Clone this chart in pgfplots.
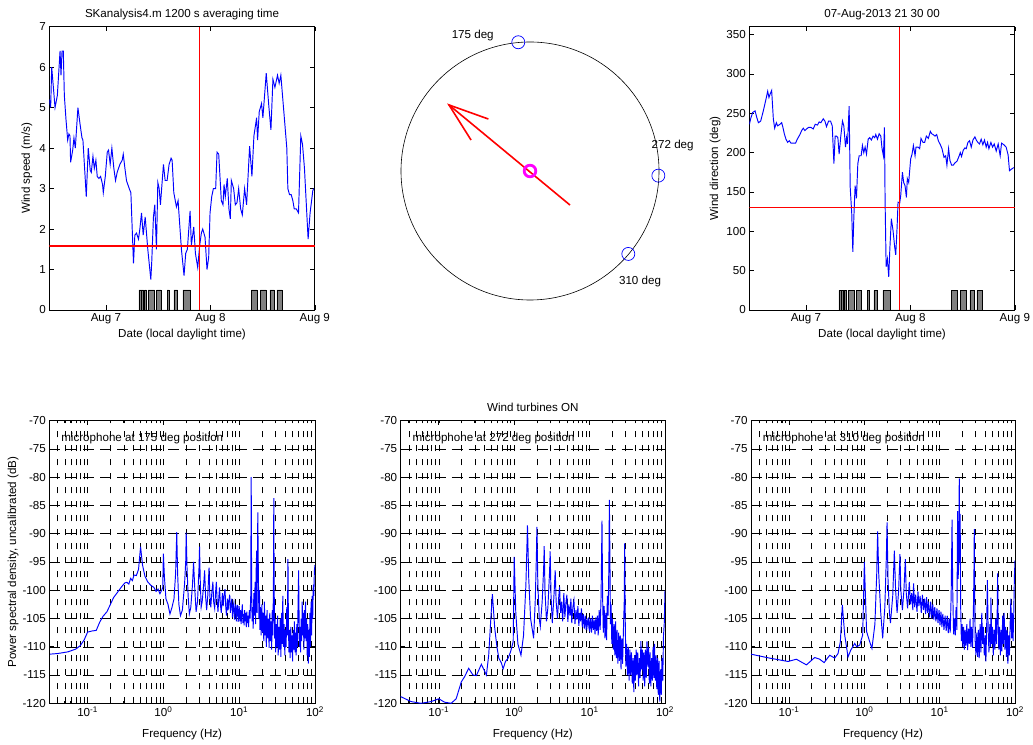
\documentclass[border=0pt]{standalone}
\usepackage{fontspec}
\setmainfont{Liberation Sans}
\usepackage{pgfplots}
\pgfplotsset{compat=1.18}
\newcommand\mf{\fontsize{11.6bp}{13bp}\selectfont}
\definecolor{mred}{RGB}{255,0,0}
\definecolor{mmag}{RGB}{255,0,255}
\pgfplotsset{
 myax/.style={scale only axis, anchor=south west, font=\mf, tick align=inside,
   major tick length=4.5bp, minor tick length=2.5bp,
   axis line style={line width=0.7bp, black},
   every tick/.append style={black, line width=0.6bp},
   /pgf/number format/assume math mode=true,
   title style={anchor=base, at={(0.5,1)}, yshift=3.5bp}},
 timeax/.style={myax, width=265.5bp, height=283.3bp, xmin=6.458, xmax=9,
   xtick={7,8,9}, xticklabels={Aug 7,Aug 8,Aug 9},
   xlabel={Date (local daylight time)}, xlabel style={at={(0.5,-0.085)}, anchor=center}},
 psdax/.style={myax, width=264.5bp, height=282.6bp, xmin=0.03125, xmax=100,
   ymin=-120, ymax=-70, ytick={-120,-115,...,-70},
   xtick={0.1,1,10,100},
   xticklabels={10\textsuperscript{-1},10\textsuperscript{0},10\textsuperscript{1},10\textsuperscript{2}},
   minor xtick={0.04,0.05,0.06,0.07,0.08,0.09,0.2,0.3,0.4,0.5,0.6,0.7,0.8,0.9,2,3,4,5,6,7,8,9,20,30,40,50,60,70,80,90},
   xmajorgrids, xminorgrids, ymajorgrids,
   major x grid style={black, line width=0.5bp, dash pattern=on 6bp off 8bp},
   minor x grid style={black, line width=0.5bp, dash pattern=on 6bp off 8bp},
   major y grid style={black, line width=0.5bp, dash pattern=on 11bp off 6bp},
   xlabel={Frequency (Hz)}, xlabel style={at={(0.5,-0.109)}, anchor=center}},
 dat/.style={draw=blue, color=blue, line width=0.95bp},
 tbar/.style={fill=gray, draw=black, line width=0.5bp},
 redl/.style={draw=mred, color=mred, line width=1.6bp},
}
\begin{document}
\begin{tikzpicture}
\useasboundingbox (0,0) rectangle (1033bp,745bp);
% ---------------- wind speed
\begin{axis}[timeax, at={(49.3bp,435bp)}, ymin=0, ymax=7, ytick={0,1,...,7},
  ylabel={Wind speed (m/s)}, ylabel style={at={(-0.084,0.5)}, anchor=center},
  title={SKanalysis4.m 1200 s averaging time}]
\addplot[tbar] coordinates {(7.316,0)(7.316,0.5)(7.336,0.5)(7.336,0)(7.340,0)(7.340,0.5)(7.360,0.5)(7.360,0)(7.370,0)(7.370,0.5)(7.388,0.5)(7.388,0)(7.404,0)(7.404,0.5)(7.466,0.5)(7.466,0)(7.486,0)(7.486,0.5)(7.526,0.5)(7.526,0)(7.585,0)(7.585,0.5)(7.605,0.5)(7.605,0)(7.650,0)(7.650,0.5)(7.687,0.5)(7.687,0)(7.737,0)(7.737,0.5)(7.809,0.5)(7.809,0)(8.393,0)(8.393,0.5)(8.447,0.5)(8.447,0)(8.479,0)(8.479,0.5)(8.533,0.5)(8.533,0)(8.569,0)(8.569,0.5)(8.613,0.5)(8.613,0)(8.637,0)(8.637,0.5)(8.688,0.5)(8.688,0)};
\addplot[dat] coordinates {(6.459,5.2)(6.471,5.0)(6.481,6.0)(6.513,5.0)(6.535,5.3)(6.561,6.4)(6.570,5.8)(6.580,6.4)(6.592,6.4)(6.602,5.3)(6.618,4.7)(6.634,4.2)(6.646,4.35)(6.656,4.3)(6.662,3.65)(6.682,3.95)(6.694,4.25)(6.707,4.0)(6.732,5.0)(6.752,4.6)(6.771,4.25)(6.780,4.2)(6.796,3.5)(6.812,2.8)(6.831,4.0)(6.850,3.45)(6.860,3.4)(6.876,3.8)(6.889,3.5)(6.904,3.7)(6.917,3.3)(6.933,3.25)(6.949,3.3)(6.968,3.1)(6.975,2.9)(6.994,3.3)(7.013,3.9)(7.025,3.95)(7.041,3.6)(7.057,4.0)(7.076,3.5)(7.092,3.2)(7.108,3.4)(7.134,3.6)(7.156,3.7)(7.166,3.85)(7.182,3.5)(7.197,3.2)(7.223,3.0)(7.239,2.9)(7.264,1.15)(7.277,1.85)(7.293,1.9)(7.312,1.75)(7.325,2.0)(7.341,2.4)(7.357,1.85)(7.376,2.3)(7.401,1.5)(7.430,0.75)(7.439,1.2)(7.455,2.3)(7.468,2.6)(7.484,1.5)(7.497,3.15)(7.510,3.0)(7.522,2.6)(7.551,3.6)(7.567,3.2)(7.586,3.2)(7.605,3.6)(7.624,3.75)(7.634,3.7)(7.650,2.9)(7.675,2.55)(7.691,2.7)(7.723,1.5)(7.748,0.85)(7.764,1.4)(7.780,1.5)(7.806,2.45)(7.818,1.6)(7.841,2.05)(7.857,1.4)(7.879,1.05)(7.898,1.6)(7.914,1.9)(7.927,2.0)(7.949,1.8)(7.968,1.0)(7.984,1.3)(7.997,2.4)(8.013,2.8)(8.029,3.0)(8.051,3.0)(8.064,3.9)(8.080,3.85)(8.105,2.7)(8.121,2.6)(8.131,3.1)(8.143,2.8)(8.162,3.25)(8.178,2.5)(8.191,2.25)(8.201,3.2)(8.223,3.0)(8.239,2.6)(8.255,2.65)(8.271,3.0)(8.290,2.5)(8.306,2.35)(8.328,3.0)(8.347,2.6)(8.376,4.05)(8.398,3.3)(8.417,4.3)(8.443,4.75)(8.452,4.2)(8.468,4.9)(8.490,5.1)(8.503,4.75)(8.535,5.85)(8.561,5.0)(8.580,4.45)(8.599,5.7)(8.618,5.5)(8.643,5.8)(8.659,5.6)(8.675,5.8)(8.694,5.2)(8.732,4.0)(8.742,3.0)(8.758,2.85)(8.774,2.85)(8.790,2.7)(8.803,2.5)(8.822,2.5)(8.844,2.4)(8.866,4.3)(8.882,4.1)(8.901,3.5)(8.936,1.75)(8.955,2.4)(8.981,2.95)(8.990,3.0)};
\addplot[redl] coordinates {(6.458,1.58)(9,1.58)};
\addplot[redl] coordinates {(7.896,0)(7.896,7)};
\end{axis}
% ---------------- compass
\begin{axis}[at={(401bp,445bp)}, anchor=south west, scale only axis, width=258bp, height=258bp,
  xmin=-1, xmax=1, ymin=-1, ymax=1, hide axis, clip=false, font=\mf]
\draw[black, line width=0.6bp] (axis cs:0,0) circle[radius=1];
\addplot[only marks, mark=o, mark size=6.5bp, draw=blue, color=blue, mark options={line width=0.7bp, draw=blue}] coordinates {(-0.091,0.998)(0.995,-0.036)(0.762,-0.643)};
\addplot[draw=mred, color=mred, line width=1.6bp] coordinates {(0.310,-0.264)(-0.628,0.512)};
\addplot[draw=mred, color=mred, line width=1.6bp] coordinates {(-0.323,0.403)(-0.628,0.512)(-0.457,0.240)};
\addplot[only marks, mark=o, mark size=5.8bp, draw=mmag, color=mmag, mark options={line width=2.8bp, draw=mmag}] coordinates {(0,0)};
\node at (axis cs:-0.444,1.054) {175 deg};
\node at (axis cs:1.106,0.196) {272 deg};
\node at (axis cs:0.853,-0.858) {310 deg};
\end{axis}
% ---------------- wind direction
\begin{axis}[timeax, at={(749.3bp,435bp)}, ymin=0, ymax=360, ytick={0,50,...,350},
  ylabel={Wind direction (deg)}, ylabel style={at={(-0.129,0.5)}, anchor=center},
  title={07-Aug-2013 21 30 00}]
\addplot[tbar] coordinates {(7.316,0)(7.316,25)(7.336,25)(7.336,0)(7.340,0)(7.340,25)(7.360,25)(7.360,0)(7.370,0)(7.370,25)(7.388,25)(7.388,0)(7.404,0)(7.404,25)(7.466,25)(7.466,0)(7.486,0)(7.486,25)(7.526,25)(7.526,0)(7.585,0)(7.585,25)(7.605,25)(7.605,0)(7.650,0)(7.650,25)(7.687,25)(7.687,0)(7.737,0)(7.737,25)(7.809,25)(7.809,0)(8.393,0)(8.393,25)(8.447,25)(8.447,0)(8.479,0)(8.479,25)(8.533,25)(8.533,0)(8.569,0)(8.569,25)(8.613,25)(8.613,0)(8.637,0)(8.637,25)(8.688,25)(8.688,0)};
\addplot[dat] coordinates {(6.459,236)(6.471,243)(6.490,251)(6.513,253)(6.529,245)(6.545,238)(6.567,240)(6.592,253)(6.618,268)(6.634,278)(6.646,270)(6.656,274)(6.672,279)(6.688,243)(6.701,231)(6.717,238)(6.729,234)(6.752,236)(6.768,238)(6.780,232)(6.793,224)(6.809,217)(6.825,213)(6.841,215)(6.857,212)(6.879,212)(6.901,212)(6.917,217)(6.943,223)(6.959,228)(6.975,231)(6.990,228)(7.006,230)(7.025,232)(7.048,232)(7.070,230)(7.089,236)(7.111,235)(7.127,239)(7.143,238)(7.166,243)(7.182,240)(7.197,233)(7.217,240)(7.236,240)(7.252,234)(7.268,186)(7.280,221)(7.293,221)(7.306,219)(7.318,198)(7.334,221)(7.350,240)(7.363,234)(7.379,207)(7.389,219)(7.398,211)(7.414,259)(7.424,156)(7.439,122)(7.449,74)(7.459,118)(7.471,158)(7.484,142)(7.497,186)(7.510,196)(7.529,196)(7.541,209)(7.554,200)(7.567,207)(7.580,198)(7.596,217)(7.611,219)(7.627,216)(7.643,221)(7.659,219)(7.669,223)(7.685,217)(7.701,224)(7.717,221)(7.729,205)(7.742,196)(7.752,232)(7.758,139)(7.768,55)(7.780,65)(7.793,42)(7.803,76)(7.818,116)(7.834,101)(7.850,80)(7.860,70)(7.873,105)(7.882,137)(7.898,136)(7.908,146)(7.924,175)(7.936,162)(7.949,158)(7.962,143)(7.971,167)(7.984,162)(8.003,192)(8.016,198)(8.029,209)(8.045,196)(8.054,207)(8.073,207)(8.089,205)(8.102,218)(8.121,213)(8.137,213)(8.153,221)(8.172,218)(8.191,227)(8.204,224)(8.217,223)(8.236,221)(8.252,223)(8.268,215)(8.287,210)(8.303,205)(8.322,194)(8.338,196)(8.350,184)(8.366,205)(8.379,190)(8.395,184)(8.411,184)(8.427,187)(8.446,189)(8.462,194)(8.478,200)(8.490,195)(8.506,203)(8.522,206)(8.535,205)(8.551,213)(8.567,215)(8.583,207)(8.599,216)(8.618,220)(8.631,216)(8.646,213)(8.662,211)(8.678,217)(8.694,210)(8.710,216)(8.726,207)(8.739,213)(8.752,205)(8.771,213)(8.787,207)(8.803,211)(8.822,202)(8.841,211)(8.860,196)(8.873,212)(8.895,210)(8.917,207)(8.936,197)(8.949,177)(8.968,179)(8.990,181)};
\addplot[redl] coordinates {(6.458,130)(9,130)};
\addplot[redl] coordinates {(7.896,0)(7.896,360)};
\end{axis}
% ---------------- PSD 175
\begin{semilogxaxis}[psdax, at={(49.3bp,41.7bp)}, width=265.7bp,
  ylabel={Power spectral density, uncalibrated (dB)}, ylabel style={at={(-0.136,0.5)}, anchor=center}]
\node[anchor=base west, font=\mf] at (rel axis cs:0.032,0.928) {microphone at 175 deg position};
\addplot[dat] coordinates {(0.032,-111.3)(0.04,-111.2)(0.055,-110.9)(0.07,-110.4)(0.08,-109.8)(0.09,-108.8)(0.1,-107.4)(0.115,-107.2)(0.13,-107.1)(0.145,-105.6)(0.16,-104.6)(0.18,-103.8)(0.2,-102.5)(0.22,-101.3)(0.25,-100.3)(0.28,-99.4)(0.31,-98.7)(0.33,-98.6)(0.35,-98.9)(0.37,-97.9)(0.39,-98.3)(0.41,-97.3)(0.44,-97.4)(0.47,-96.3)(0.5,-92.3)(0.53,-95.5)(0.57,-97.5)(0.62,-98.5)(0.68,-99.1)(0.75,-99.5)(0.8,-100.2)(0.85,-99.8)(0.9,-100.6)(0.95,-100.0)(0.98,-99.5)(1.0,-93.5)(1.03,-97.5)(1.08,-101.5)(1.15,-102.5)(1.22,-104.2)(1.3,-103.0)(1.38,-101.5)(1.45,-97)(1.5,-89.7)(1.54,-97)(1.6,-102.5)(1.68,-104.5)(1.78,-103.5)(1.9,-99)(1.97,-95)(2.0,-89.8)(2.05,-96)(2.12,-101)(2.2,-104.2)(2.3,-103)(2.42,-99)(2.5,-95)(2.6,-100)(2.7,-103.8)(2.82,-102)(2.95,-96)(3.0,-92.3)(3.06,-98)(3.15,-103)(3.25,-102)(3.4,-99)(3.5,-96.5)(3.6,-101)(3.72,-103.5)(3.85,-101)(4.0,-96)(4.1,-101)(4.22,-103)(4.35,-100.5)(4.5,-98.5)(4.6,-102)(4.75,-103.2)(4.9,-100)(5.0,-98.5)(5.1,-101.5)(5.25,-103.8)(5.4,-101)(5.5,-99.5)(5.65,-102.5)(5.8,-104)(6.0,-100.5)(6.15,-102.8)(6.3,-101)(6.5,-99.8)(6.65,-103)(6.8,-104.5)(7.0,-101.5)(7.15,-103.5)(7.3,-102)(7.5,-100.8)(7.65,-104)(7.8,-102.5)(8.0,-101.5)(8.15,-104.8)(8.3,-103)(8.5,-102.2)(8.65,-105.2)(8.8,-103.5)(9.0,-102.5)(9.15,-105.5)(9.3,-103.8)(9.5,-102.6)(9.7,-105.6)(9.85,-104)(10.0,-102.8)(10.2,-105.5)(10.4,-103.5)(10.6,-106)(10.8,-104)(11.0,-102.5)(11.2,-105.8)(11.4,-104.2)(11.6,-106.2)(11.8,-103.5)(12.0,-105.5)(12.2,-104)(12.4,-106.5)(12.6,-103.8)(12.8,-105.8)(13.0,-104.5)(13.3,-106.5)(13.6,-103.5)(13.9,-105)(14.2,-101)(14.4,-80)(14.6,-100)(14.8,-105.5)(15.0,-103)(15.3,-106.8)(15.6,-100.5)(15.9,-104.5)(16.2,-98.5)(16.5,-106)(16.7,-97)(17.0,-93)(17.2,-104)(17.6,-86.2)(17.9,-97)(18.2,-105)(18.5,-100)(18.8,-107)(19.1,-103)(19.5,-108)(19.9,-102.5)(20.3,-107.5)(20.7,-104)(21.1,-109)(21.5,-102)(21.9,-108)(22.3,-104.5)(22.8,-110)(23.3,-103.5)(23.8,-108.5)(24.3,-105)(24.8,-110.2)(25.3,-104)(25.8,-109)(26.3,-105.5)(26.8,-110.5)(27.3,-103.5)(27.8,-108)(28.3,-99)(28.6,-83.7)(28.9,-98)(29.3,-108.5)(29.8,-105)(30.3,-111)(30.9,-106)(31.5,-110)(32.1,-104.5)(32.7,-111.5)(33.4,-106.5)(34.1,-110.5)(34.8,-105)(35.5,-111.8)(36.2,-104)(36.9,-109.5)(37.6,-101)(38.4,-110)(39.2,-106)(40.0,-111.5)(40.8,-107)(41.6,-110)(42.4,-103)(43.2,-108)(44.0,-94.5)(44.6,-106)(45.3,-111)(46.1,-107)(47.0,-112)(47.9,-106.5)(48.8,-111)(49.7,-108)(50.6,-112.6)(51.5,-107)(52.5,-110.5)(53.5,-105.5)(54.5,-111)(55.5,-107.5)(56.5,-111.5)(57.5,-106)(58.6,-110)(59.7,-103)(60.8,-96.5)(61.6,-104)(62.5,-110)(63.5,-106.5)(64.5,-111)(65.6,-105)(66.7,-109)(67.8,-102)(69,-108)(70.2,-104)(71.4,-110.5)(72.6,-103.5)(73.8,-108.5)(75,-102)(76.3,-109)(77.6,-105)(78.9,-111.5)(80.2,-106)(81.5,-113)(82.9,-107)(84.3,-111.8)(85.7,-104)(87.2,-110)(88.7,-102)(90.2,-108)(91.7,-101)(93.3,-105)(94.9,-99)(96.5,-101)(98.1,-96.5)(100,-95.5)};
\end{semilogxaxis}
% ---------------- PSD 272
\begin{semilogxaxis}[psdax, at={(400.7bp,41.7bp)}, width=264.3bp, title={Wind turbines ON}]
\node[anchor=base west, font=\mf] at (rel axis cs:0.032,0.928) {microphone at 272 deg position};
\addplot[dat] coordinates {(0.031,-118.8)(0.043,-119.7)(0.058,-120)(0.079,-119.7)(0.1,-119.2)(0.119,-119.8)(0.146,-120)(0.17,-119.2)(0.199,-116.2)(0.22,-115.3)(0.249,-113.8)(0.284,-115.0)(0.315,-115.1)(0.367,-113.1)(0.428,-115.0)(0.459,-111.5)(0.49,-105)(0.514,-100.7)(0.552,-106.7)(0.59,-110)(0.625,-112)(0.678,-112.9)(0.713,-113.9)(0.766,-112.6)(0.832,-112)(0.894,-110.9)(0.97,-109.1)(1.0,-94.1)(1.05,-104)(1.12,-109.5)(1.23,-111.5)(1.33,-108)(1.43,-99)(1.5,-88.5)(1.56,-98)(1.65,-105)(1.81,-108.5)(1.9,-102)(1.97,-94)(2.0,-88.8)(2.06,-99)(2.15,-105)(2.22,-106.4)(2.35,-102)(2.46,-96)(2.5,-92.2)(2.56,-100)(2.68,-105.5)(2.8,-103)(2.95,-96.5)(3.0,-93.1)(3.08,-101)(3.2,-105.8)(3.35,-101.5)(3.5,-96.5)(3.6,-102)(3.75,-105)(3.88,-101.5)(4.0,-99.4)(4.12,-104)(4.25,-102)(4.4,-105.5)(4.55,-100.5)(4.7,-104.8)(4.85,-102.2)(5.0,-100.8)(5.15,-105.6)(5.3,-102.5)(5.5,-104.5)(5.65,-101.5)(5.8,-105.8)(6.0,-103)(6.2,-101.8)(6.4,-106)(6.6,-103.5)(6.8,-105.2)(7.0,-102.8)(7.2,-106.3)(7.4,-104)(7.6,-105.5)(7.8,-103.2)(8.0,-106.5)(8.25,-104.2)(8.5,-106.8)(8.75,-104.5)(9.0,-107)(9.25,-105)(9.5,-106.4)(9.75,-104.8)(10.0,-107.3)(10.3,-105)(10.6,-107.5)(10.9,-104.5)(11.2,-107)(11.5,-105.2)(11.8,-107.8)(12.1,-104.8)(12.4,-107.2)(12.7,-104.5)(13.0,-108)(13.4,-103.5)(13.8,-107)(14.2,-101)(14.6,-87.7)(14.9,-101.5)(15.2,-107.5)(15.6,-102.8)(16.0,-108.5)(16.4,-104)(16.8,-108.8)(17.2,-101)(17.6,-104.5)(18.0,-96)(18.3,-84)(18.6,-94)(18.9,-106)(19.3,-102.5)(19.7,-109.5)(20.1,-105)(20.6,-110.5)(21.1,-106)(21.6,-111.5)(22.1,-105.5)(22.6,-112)(23.1,-107)(23.7,-113)(24.3,-107.5)(24.9,-112.5)(25.5,-108)(26.1,-114)(26.7,-108.5)(27.4,-113)(28.1,-107)(28.8,-102)(29.2,-91.7)(29.6,-104)(30.3,-113.5)(31.0,-109.5)(31.8,-115)(32.6,-110)(33.4,-116)(34.2,-110.5)(35.0,-115)(35.9,-111)(36.8,-116.5)(37.7,-112)(38.6,-118)(39.5,-111.5)(40.5,-116)(41.5,-110.5)(42.5,-115)(43.5,-111)(44.6,-117)(45.7,-112)(46.8,-115.5)(47.9,-109)(49.0,-114)(50.2,-110.5)(51.4,-116)(52.6,-111)(53.8,-117)(55.1,-110.5)(56.4,-115.5)(57.7,-109)(59.1,-113.5)(60.5,-110)(61.9,-116.5)(63.3,-111)(64.8,-117)(66.3,-112)(67.8,-116)(69.4,-110)(71.0,-115.5)(72.6,-109.5)(74.3,-116)(76.0,-111.5)(77.8,-117.5)(79.6,-112)(81.4,-118.5)(83.3,-112.5)(85.2,-119.7)(87.2,-114)(89.2,-118.5)(91.3,-112)(93.4,-116)(95.5,-108)(97.7,-106)(100,-100)};
\end{semilogxaxis}
% ---------------- PSD 310
\begin{semilogxaxis}[psdax, at={(751bp,41.7bp)}, width=264bp]
\node[anchor=base west, font=\mf] at (rel axis cs:0.032,0.928) {microphone at 310 deg position};
\addplot[dat] coordinates {(0.031,-111.3)(0.055,-112)(0.097,-112.6)(0.125,-112.2)(0.17,-113.2)(0.219,-111.9)(0.255,-112.2)(0.292,-112.8)(0.347,-111.5)(0.404,-112.0)(0.447,-111.2)(0.48,-109.1)(0.51,-102.6)(0.548,-107.9)(0.607,-111.8)(0.659,-110.6)(0.745,-109.4)(0.79,-110)(0.867,-109.7)(0.95,-107.9)(1.0,-95)(1.07,-107.3)(1.17,-109)(1.26,-110.3)(1.38,-106)(1.46,-97)(1.5,-89.6)(1.55,-97)(1.65,-104)(1.75,-108.5)(1.87,-103)(1.96,-94)(2.0,-88)(2.06,-98)(2.15,-104)(2.22,-105.8)(2.38,-101)(2.5,-93)(2.6,-100)(2.72,-104)(2.85,-100)(2.97,-93.6)(3.05,-100)(3.2,-103.5)(3.35,-100)(3.5,-94.5)(3.6,-100.5)(3.75,-103.2)(3.85,-101)(3.95,-98.5)(4.1,-102.5)(4.25,-100.5)(4.4,-103.5)(4.5,-98.8)(4.65,-103)(4.8,-100.8)(5.0,-103.8)(5.15,-100.2)(5.3,-102.8)(5.5,-101)(5.7,-104)(5.9,-100.8)(6.1,-103.5)(6.3,-101.5)(6.5,-104.2)(6.7,-101.2)(6.9,-104)(7.1,-102)(7.35,-104.8)(7.6,-102)(7.85,-105)(8.1,-102.5)(8.35,-105.2)(8.6,-103)(8.9,-105.5)(9.2,-103.2)(9.5,-105.8)(9.8,-103.5)(10.1,-106.2)(10.4,-103.8)(10.7,-106.5)(11.0,-104.2)(11.4,-107)(11.8,-104.5)(12.2,-107.2)(12.6,-104.5)(13.0,-107.6)(13.4,-105)(13.8,-107.5)(14.2,-101)(14.6,-87.5)(14.9,-100)(15.3,-107.8)(15.7,-105)(16.1,-108)(16.5,-103)(16.9,-107)(17.3,-86)(17.6,-98)(17.9,-94)(18.2,-80.2)(18.5,-95)(18.7,-86.5)(19.0,-103)(19.4,-109)(19.8,-106)(20.3,-110)(20.8,-106.5)(21.3,-110.5)(21.8,-107)(22.3,-109.8)(22.9,-106)(23.5,-110.6)(24.1,-106.8)(24.7,-109.5)(25.3,-105)(25.9,-110)(26.6,-106.5)(27.3,-110.2)(28.0,-104)(28.5,-97)(28.8,-89.2)(29.1,-100)(29.6,-109)(30.3,-111.5)(31.1,-107.5)(31.9,-111.8)(32.7,-107)(33.5,-112)(34.4,-106)(35.3,-111)(36.2,-104)(37.1,-109.5)(38.1,-106.5)(39.1,-111.5)(40.1,-108)(41.1,-112.6)(42.1,-106)(43.0,-98.2)(44.0,-107)(45.1,-111)(46.3,-106)(47.5,-110)(47.9,-101.3)(49.0,-109.5)(50.2,-106.5)(51.5,-111.5)(52.8,-107)(54.1,-110.5)(55.5,-105)(56.9,-109.5)(58.0,-104)(58.8,-97)(59.6,-105)(61.0,-110.5)(62.5,-106.5)(64.0,-111.5)(65.5,-107)(67.0,-110.8)(68.6,-104.5)(70.2,-109.5)(71.8,-104)(73.5,-110.5)(75.2,-106.5)(77.0,-111.8)(78.8,-107)(80.6,-113)(82.4,-108)(84.3,-111.5)(86.2,-106)(88.1,-101.5)(90.1,-108.5)(92.1,-104)(94.2,-109)(96.3,-104)(98.2,-97.5)(100,-94.7)};
\end{semilogxaxis}
\end{tikzpicture}
\end{document}
